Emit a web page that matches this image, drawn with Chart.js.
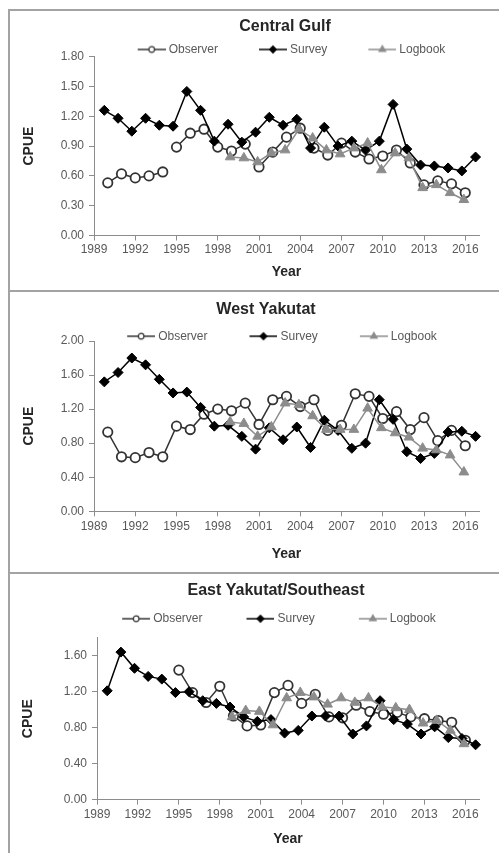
<!DOCTYPE html>
<html>
<head>
<meta charset="utf-8">
<title>CPUE by region</title>
<script src="https://cdn.jsdelivr.net/npm/chart.js@4.4.1/dist/chart.umd.min.js"></script>
<style>
  html, body { margin: 0; padding: 0; background: #fff; width: 499px; height: 853px; overflow: hidden; }
  .rule { position: absolute; background: #a3a3a3; }
  canvas { position: absolute; left: 10px; }
</style>
</head>
<body>
<div class="rule" style="left:8px;top:9px;width:2px;height:844px"></div>
<div class="rule" style="left:8px;top:9px;width:491px;height:2px"></div>
<div class="rule" style="left:8px;top:290px;width:491px;height:2px"></div>
<div class="rule" style="left:8px;top:572px;width:491px;height:2px"></div>
<canvas id="cg" width="550" height="279" style="top:11px"></canvas>
<canvas id="wy" width="512" height="280" style="top:292px"></canvas>
<canvas id="ey" width="532" height="279" style="top:574px"></canvas>
<script>
// years of each series
const observerYears = [1990, 1991, 1992, 1993, 1994, 1995, 1996, 1997, 1998, 1999, 2000, 2001, 2002, 2003,
  2004, 2005, 2006, 2007, 2008, 2009, 2010, 2011, 2012, 2013, 2014, 2015, 2016];
const surveyYears = [1990, 1991, 1992, 1993, 1994, 1995, 1996, 1997, 1998, 1999, 2000, 2001, 2002, 2003,
  2004, 2005, 2006, 2007, 2008, 2009, 2010, 2011, 2012, 2013, 2014, 2015, 2016, 2017];
const logbookYears = [1999, 2000, 2001, 2002, 2003, 2004, 2005, 2006, 2007, 2008, 2009, 2010, 2011, 2012,
  2013, 2014, 2015, 2016];
const eyObserverYears = [1995, 1996, 1997, 1998, 1999, 2000, 2001, 2002, 2003, 2004, 2005, 2006, 2007, 2008,
  2009, 2010, 2011, 2012, 2013, 2014, 2015, 2016];

// survey points sit a little before the year mark, logbook slightly
const surveyShift = -0.25;
const logbookShift = -0.1;

// Central Gulf
const cgObserver = [0.53, 0.62, 0.58, 0.60, 0.64, 0.89, 1.03, 1.07, 0.89, 0.85, 0.92, 0.69, 0.84, 0.99,
  1.08, 0.88, 0.81, 0.93, 0.84, 0.77, 0.80, 0.86, 0.73, 0.51, 0.55, 0.52, 0.43];
const cgSurvey = [1.26, 1.18, 1.05, 1.18, 1.11, 1.10, 1.45, 1.26, 0.95, 1.12, 0.94, 1.04, 1.19, 1.11,
  1.17, 0.88, 1.09, 0.90, 0.95, 0.86, 0.95, 1.32, 0.87, 0.71, 0.70, 0.68, 0.65, 0.79];
const cgLogbook = [0.79, 0.78, 0.74, 0.83, 0.86, 1.07, 0.98, 0.86, 0.82, 0.88, 0.93, 0.66, 0.83, 0.78,
  0.48, 0.51, 0.43, 0.36];
const cgObserverBreakAfter = 1994;

// West Yakutat
const wyObserver = [0.93, 0.64, 0.63, 0.69, 0.64, 1.00, 0.96, 1.14, 1.20, 1.18, 1.27, 1.02, 1.31, 1.35,
  1.23, 1.31, 0.95, 1.01, 1.38, 1.35, 1.09, 1.17, 0.96, 1.10, 0.83, 0.95, 0.77];
const wySurvey = [1.52, 1.63, 1.80, 1.72, 1.55, 1.39, 1.40, 1.22, 1.00, 1.01, 0.88, 0.73, 0.98, 0.84,
  0.99, 0.75, 1.07, 0.95, 0.74, 0.80, 1.31, 1.08, 0.70, 0.62, 0.68, 0.93, 0.94, 0.88];
const wyLogbook = [1.05, 1.03, 0.88, 0.99, 1.27, 1.25, 1.12, 0.96, 0.96, 0.96, 1.21, 0.98, 0.92, 0.87,
  0.74, 0.72, 0.66, 0.46];

// East Yakutat/Southeast
const eyObserver = [1.44, 1.19, 1.08, 1.26, 0.93, 0.82, 0.83, 1.19, 1.27, 1.07, 1.17, 0.92, 0.91, 1.05,
  0.98, 0.95, 0.97, 0.92, 0.90, 0.88, 0.86, 0.66];
const eySurvey = [1.21, 1.64, 1.46, 1.37, 1.34, 1.19, 1.20, 1.10, 1.07, 1.03, 0.92, 0.87, 0.89, 0.74,
  0.77, 0.93, 0.93, 0.93, 0.73, 0.82, 1.10, 0.89, 0.84, 0.73, 0.81, 0.69, 0.68, 0.61];
const eyLogbook = [0.92, 0.99, 0.98, 0.83, 1.13, 1.19, 1.14, 1.06, 1.13, 1.08, 1.13, 1.03, 1.02, 1.00,
  0.85, 0.88, 0.77, 0.62];

const xMin = 1989, xMax = 2017, xStep = 3;

Chart.defaults.font.family = '"Liberation Sans", Arial, Helvetica, sans-serif';
const inkTitle = '#262626';
const inkLabel = '#595959';
const axisGrey = '#8c8c8c';

const look = {
  observer: { line: '#333333', fill: '#ffffff', shape: 'circle', radius: 4.7, border: 1.8, legendR: 2.8, order: 3 },
  survey: { line: '#000000', fill: '#000000', shape: 'rectRot', radius: 5, border: 1, legendR: 3.4, order: 2 },
  logbook: { line: '#8c8c8c', fill: '#8c8c8c', shape: 'triangle', radius: 5.6, border: 1, legendR: 3.8, order: 1 }
};

// the legend box is kept short so the plot starts close under it;
// let its text hang below the box instead of being clipped
const legendOverhang = {
  id: 'legendOverhang',
  afterLayout(chart) {
    if (chart.legend) chart.legend.bottom = chart.legend.top + 80;
  }
};

// little "line with marker" picture used as legend symbol
function legendSymbol(s, margin) {
  const c = document.createElement('canvas');
  c.width = margin + 28;
  c.height = 12;
  const g = c.getContext('2d');
  const cx = margin + 14, cy = 6, r = s.legendR;
  g.strokeStyle = s.line;
  g.lineWidth = 1.5;
  g.beginPath(); g.moveTo(margin, cy); g.lineTo(margin + 28, cy); g.stroke();
  g.beginPath();
  if (s.shape === 'circle') {
    g.arc(cx, cy, r, 0, Math.PI * 2);
  } else if (s.shape === 'rectRot') {
    g.moveTo(cx - r, cy); g.lineTo(cx, cy - r); g.lineTo(cx + r, cy); g.lineTo(cx, cy + r); g.closePath();
  } else {
    g.moveTo(cx, cy - r); g.lineTo(cx + r * 0.866, cy + r * 0.5); g.lineTo(cx - r * 0.866, cy + r * 0.5); g.closePath();
  }
  g.fillStyle = s.fill;
  g.fill();
  g.lineWidth = 1.2;
  g.stroke();
  return c;
}

function series(label, s, years, values, shift, breakAfter) {
  const ds = {
    label: label,
    data: years.map((yr, i) => ({ x: yr + shift, y: values[i] })),
    borderColor: s.line,
    borderWidth: 1.5,
    pointStyle: s.shape,
    pointRadius: s.radius,
    pointBackgroundColor: s.fill,
    pointBorderColor: s.line,
    pointBorderWidth: s.border,
    order: s.order,
    fill: false,
    tension: 0,
    clip: false
  };
  if (breakAfter) {
    ds.segment = { borderColor: ctx => ctx.p0.parsed.x === breakAfter ? 'rgba(0,0,0,0)' : undefined };
  }
  return ds;
}

function panel(id, p, datasets) {
  const symbols = [legendSymbol(look.observer, p.legendMargin),
                   legendSymbol(look.survey, p.legendMargin),
                   legendSymbol(look.logbook, p.legendMargin)];
  new Chart(document.getElementById(id), {
    type: 'line',
    data: { datasets: datasets },
    plugins: [legendOverhang],
    options: {
      responsive: false,
      animation: false,
      events: [],
      layout: { padding: 0 },
      plugins: {
        tooltip: { enabled: false },
        title: {
          display: true, text: p.title, color: inkTitle,
          font: { size: 16, weight: 'bold' },
          padding: { top: p.titleTop, bottom: p.titleBottom }
        },
        legend: {
          display: true, position: 'top', align: 'center',
          maxHeight: p.legendPad + 6,
          labels: {
            usePointStyle: true,
            pointStyleWidth: symbols[0].width - 6,
            padding: p.legendPad,
            color: inkLabel,
            font: { size: 12 },
            generateLabels: chart => Chart.defaults.plugins.legend.labels.generateLabels(chart)
              .sort((a, b) => a.datasetIndex - b.datasetIndex)
              .map(it => Object.assign(it, { pointStyle: symbols[it.datasetIndex] }))
          }
        }
      },
      scales: {
        x: {
          type: 'linear', min: xMin, max: xMax,
          border: { display: true, color: axisGrey, width: 1 },
          grid: { drawOnChartArea: false, drawTicks: true, tickLength: 5, color: axisGrey },
          ticks: {
            stepSize: xStep, includeBounds: false, autoSkip: false, maxRotation: 0,
            padding: p.xTickPad, color: inkLabel, font: { size: 12 },
            callback: v => String(v)
          },
          title: {
            display: true, text: 'Year', color: inkTitle,
            font: { size: 14, weight: 'bold' }, padding: { top: 0, bottom: p.yearPad }
          },
          afterFit: s => { s.height = p.xAxisHeight; }
        },
        y: {
          type: 'linear', min: 0, max: p.yMax,
          border: { display: true, color: axisGrey, width: 1 },
          grid: { drawOnChartArea: false, drawTicks: true, tickLength: 5, color: axisGrey },
          ticks: {
            stepSize: p.yStep, includeBounds: false, padding: 5,
            color: inkLabel, font: { size: 12 },
            callback: v => v.toFixed(2)
          },
          title: {
            display: true, text: 'CPUE', color: inkTitle,
            font: { size: 14, weight: 'bold' }, padding: { top: p.yTitlePad, bottom: 0 }
          },
          afterFit: s => { s.width = p.yAxisWidth; }
        },
        yRight: {
          type: 'linear', position: 'right', display: true,
          grid: { display: false }, border: { display: false }, ticks: { display: false },
          afterFit: s => { s.width = p.rightGap; }
        },
        xTop: {
          type: 'linear', axis: 'x', position: 'top', display: true,
          grid: { display: false }, border: { display: false }, ticks: { display: false },
          afterFit: s => { s.height = p.topGap; }
        }
      }
    }
  });
}

panel('cg', {
  title: 'Central Gulf', yMax: 1.8, yStep: 0.3,
  titleTop: 5.9, titleBottom: -20.6, legendPad: 28, legendMargin: 16, topGap: 7.2,
  rightGap: 81, yAxisWidth: 84, yTitlePad: 10.3, xAxisHeight: 54.5, xTickPad: 2, yearPad: 9.1
}, [
  series('Observer', look.observer, observerYears, cgObserver, 0, cgObserverBreakAfter),
  series('Survey', look.survey, surveyYears, cgSurvey, surveyShift),
  series('Logbook', look.logbook, logbookYears, cgLogbook, logbookShift)
]);

panel('wy', {
  title: 'West Yakutat', yMax: 2, yStep: 0.4,
  titleTop: 7.6, titleBottom: 1.4, legendPad: 10, legendMargin: 35, topGap: 4.8,
  rightGap: 43, yAxisWidth: 84, yTitlePad: 10.3, xAxisHeight: 60.7, xTickPad: 3.5, yearPad: 9.4
}, [
  series('Observer', look.observer, observerYears, wyObserver, 0),
  series('Survey', look.survey, surveyYears, wySurvey, surveyShift),
  series('Logbook', look.logbook, logbookYears, wyLogbook, logbookShift)
]);

panel('ey', {
  title: 'East Yakutat/Southeast', yMax: 1.8, yStep: 0.4,
  titleTop: 7.2, titleBottom: -25.7, legendPad: 38, legendMargin: 9, topGap: 19,
  rightGap: 63, yAxisWidth: 87, yTitlePad: 9.9, xAxisHeight: 53.3, xTickPad: 2.6, yearPad: 5.4
}, [
  series('Observer', look.observer, eyObserverYears, eyObserver, 0),
  series('Survey', look.survey, surveyYears, eySurvey, surveyShift),
  series('Logbook', look.logbook, logbookYears, eyLogbook, logbookShift)
]);
</script>
</body>
</html>
